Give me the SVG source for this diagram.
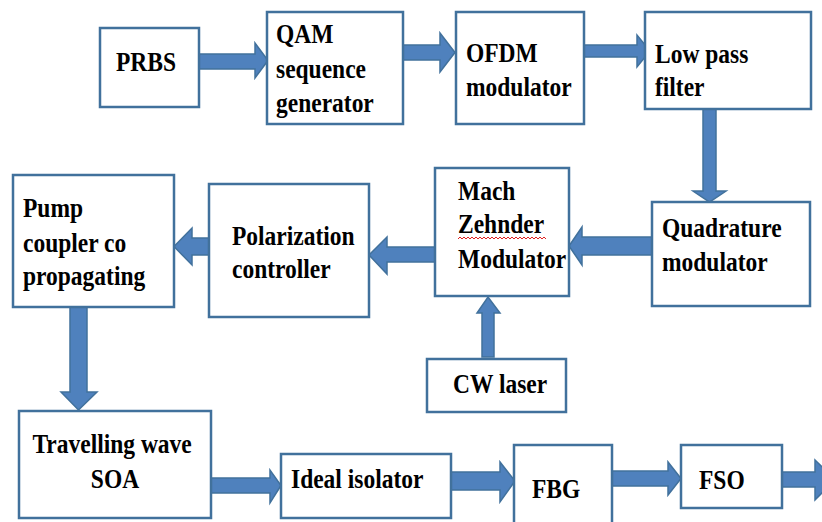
<svg xmlns="http://www.w3.org/2000/svg" width="822" height="522" viewBox="0 0 822 522">
  <style>
    .box { fill: #ffffff; stroke: #41719C; stroke-width: 2.5; }
    .arrow { fill: #4F81BD; stroke: #41719C; stroke-width: 1.5; stroke-linejoin: miter; }
    .lbl { font-family: 'Liberation Serif', 'DejaVu Serif', serif; font-weight: 700; font-size: 23.5px; fill: #000000; }
    .squiggle { fill: none; stroke: #E02020; stroke-width: 1; }
  </style>
  <rect width="822" height="522" fill="#ffffff"/>

  <!-- connectors: block arrows -->
  <g id="connectors">
    <polygon class="arrow" points="199,54 255,54 255,43 268,60.5 255,78 255,69 199,69"/>
    <polygon class="arrow" points="403,45 440,45 440,33 455,52.5 440,72 440,60 403,60"/>
    <polygon class="arrow" points="584,45 637,45 637,35 650,51 637,67 637,57 584,57"/>
    <polygon class="arrow" points="703,109 716,109 716,191 726,191 709.5,202 693,191 703,191"/>
    <polygon class="arrow" points="652,237 582,237 582,227 569,246 582,265 582,255 652,255"/>
    <polygon class="arrow" points="435,247 387,247 387,237 369,255 387,274 387,262 435,262"/>
    <polygon class="arrow" points="209,238 192,238 192,228 174,246.5 192,265 192,255 209,255"/>
    <polygon class="arrow" points="70,307 87,307 87,392 97,392 78.5,410 61,392 70,392"/>
    <polygon class="arrow" points="482,357 482,313 477,313 488,297 500,313 494,313 494,357"/>
    <polygon class="arrow" points="211,478 270,478 270,470 281,485.5 270,503 270,493 211,493"/>
    <polygon class="arrow" points="451,472 500,472 500,462 515,481 500,502 500,490 451,490"/>
    <polygon class="arrow" points="612,471 668,471 668,462 681,478.5 668,495 668,486 612,486"/>
    <polygon class="arrow" points="782,472 815,472 815,460 835,479.5 815,500 815,487 782,487"/>
  </g>

  <g id="prbs">
    <rect class="box" x="100" y="28" width="99" height="79"/>
    <text class="lbl" font-family="Liberation Serif" transform="translate(116,71) scale(1,1.2)">PRBS</text>
  </g>

  <g id="qam">
    <rect class="box" x="267" y="12" width="136" height="112"/>
    <text class="lbl" font-family="Liberation Serif" transform="translate(276,43) scale(1,1.2)">
      <tspan x="0" y="0">QAM</tspan>
      <tspan x="0" y="29.2">sequence</tspan>
      <tspan x="0" y="57.5">generator</tspan>
    </text>
  </g>

  <g id="ofdm">
    <rect class="box" x="456" y="12" width="128" height="112"/>
    <text class="lbl" font-family="Liberation Serif" transform="translate(466,62) scale(1,1.2)">
      <tspan x="0" y="0">OFDM</tspan>
      <tspan x="0" y="28.3">modulator</tspan>
    </text>
  </g>

  <g id="lpf">
    <rect class="box" x="645" y="12" width="166" height="97"/>
    <text class="lbl" font-family="Liberation Serif" transform="translate(655,63) scale(1,1.2)">
      <tspan x="0" y="0">Low pass</tspan>
      <tspan x="0" y="27.5">filter</tspan>
    </text>
  </g>

  <g id="quadrature">
    <rect class="box" x="652" y="202" width="158" height="104"/>
    <text class="lbl" font-family="Liberation Serif" transform="translate(662,237) scale(1,1.2)">
      <tspan x="0" y="0">Quadrature</tspan>
      <tspan x="0" y="28.3">modulator</tspan>
    </text>
  </g>

  <g id="mzm">
    <rect class="box" x="435" y="168" width="134" height="128"/>
    <text class="lbl" font-family="Liberation Serif" transform="translate(458,200) scale(1,1.2)">
      <tspan x="0" y="0">Mach</tspan>
      <tspan x="0" y="27.5">Zehnder</tspan>
      <tspan x="0" y="56.7">Modulator</tspan>
    </text>
    <path class="squiggle" d="M458,239 l2,-2 l2,2 l2,-2 l2,2 l2,-2 l2,2 l2,-2 l2,2 l2,-2 l2,2 l2,-2 l2,2 l2,-2 l2,2 l2,-2 l2,2 l2,-2 l2,2 l2,-2 l2,2 l2,-2 l2,2 l2,-2 l2,2 l2,-2 l2,2 l2,-2 l2,2 l2,-2 l2,2 l2,-2 l2,2 l2,-2 l2,2 l2,-2 l2,2 l2,-2 l2,2 l2,-2 l2,2 l2,-2 l2,2 l2,-2 l2,2"/>
  </g>

  <g id="polarization">
    <rect class="box" x="209" y="184" width="160" height="133"/>
    <text class="lbl" font-family="Liberation Serif" transform="translate(232,245) scale(1,1.2)">
      <tspan x="0" y="0">Polarization</tspan>
      <tspan x="0" y="27.5">controller</tspan>
    </text>
  </g>

  <g id="pump">
    <rect class="box" x="13" y="175" width="161" height="132"/>
    <text class="lbl" font-family="Liberation Serif" transform="translate(23,217) scale(1,1.2)">
      <tspan x="0" y="0">Pump</tspan>
      <tspan x="0" y="29.2">coupler co</tspan>
      <tspan x="0" y="56.7">propagating</tspan>
    </text>
  </g>

  <g id="cwlaser">
    <rect class="box" x="427" y="359" width="139" height="53"/>
    <text class="lbl" font-family="Liberation Serif" transform="translate(453,393) scale(1,1.2)">CW laser</text>
  </g>

  <g id="soa">
    <rect class="box" x="19" y="411" width="192" height="107"/>
    <text class="lbl" font-family="Liberation Serif" text-anchor="middle" transform="translate(115,453) scale(1,1.2)">
      <tspan x="0" y="0">Travelling wave</tspan>
      <tspan x="0" y="29.2">SOA</tspan>
    </text>
  </g>

  <g id="isolator">
    <rect class="box" x="281" y="454" width="170" height="64"/>
    <text class="lbl" font-family="Liberation Serif" transform="translate(291,488) scale(1,1.2)">Ideal isolator</text>
  </g>

  <g id="fbg">
    <rect class="box" x="514" y="445" width="98" height="85"/>
    <text class="lbl" font-family="Liberation Serif" transform="translate(532,498) scale(1,1.2)">FBG</text>
  </g>

  <g id="fso">
    <rect class="box" x="681" y="445" width="101" height="63"/>
    <text class="lbl" font-family="Liberation Serif" transform="translate(699,489) scale(1,1.2)">FSO</text>
  </g>
</svg>
